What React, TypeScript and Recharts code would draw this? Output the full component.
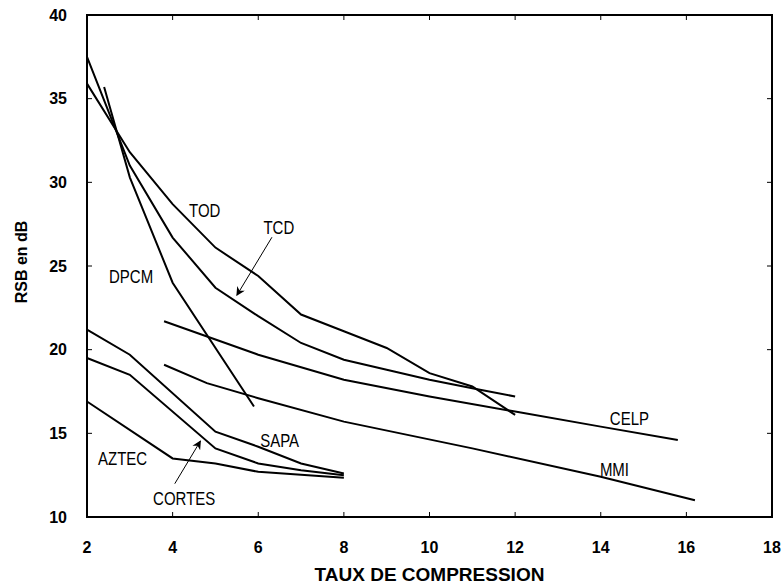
import React from "react";
import { LineChart, Line, XAxis, YAxis, ReferenceArea, ReferenceDot, Label } from "recharts";

// taux de compression (x) / RSB en dB (y) for each coder
const todX = [2, 3, 4, 5, 6, 7, 8, 9, 10, 11, 12];
const todY = [35.9, 31.8, 28.7, 26.1, 24.4, 22.1, 21.1, 20.1, 18.6, 17.8, 16.1];

const tcdX = [2, 3, 4, 5, 6, 7, 8, 9, 10, 11, 12];
const tcdY = [37.5, 31.0, 26.7, 23.7, 22.0, 20.4, 19.4, 18.8, 18.2, 17.7, 17.2];

const dpcmX = [2.4, 3, 4, 5.9];
const dpcmY = [35.7, 30.3, 24.0, 16.6];

const celpX = [3.8, 6, 8, 10, 12, 14, 15.8];
const celpY = [21.7, 19.7, 18.2, 17.2, 16.3, 15.4, 14.6];

const mmiX = [3.8, 4.8, 6, 8, 11, 14, 16.2];
const mmiY = [19.1, 18.0, 17.1, 15.7, 14.1, 12.4, 11.0];

const sapaX = [2, 3, 5, 6, 7, 8];
const sapaY = [21.2, 19.7, 15.1, 14.2, 13.2, 12.6];

const cortesX = [2, 3, 5, 6, 7, 8];
const cortesY = [19.5, 18.5, 14.1, 13.2, 12.8, 12.5];

const aztecX = [2, 4, 5, 6, 8];
const aztecY = [16.9, 13.5, 13.2, 12.7, 12.35];

// annotation arrows (tail -> head)
const tcdArrowX = [6.32, 5.5];
const tcdArrowY = [26.72, 23.25];
const cortesArrowX = [4.05, 4.65];
const cortesArrowY = [11.99, 14.54];

const xTicks = [2, 4, 6, 8, 10, 12, 14, 16, 18];
const yTicks = [10, 15, 20, 25, 30, 35, 40];

const labels = [
  { name: "TOD", x: 4.75, y: 28.3 },
  { name: "TCD", x: 6.48, y: 27.3 },
  { name: "DPCM", x: 3.03, y: 24.35 },
  { name: "CELP", x: 14.67, y: 15.88 },
  { name: "MMI", x: 14.32, y: 12.85 },
  { name: "SAPA", x: 6.5, y: 14.58 },
  { name: "AZTEC", x: 2.83, y: 13.49 },
  { name: "CORTES", x: 4.27, y: 11.09 },
];

const toPoints = (xs: number[], ys: number[]) => xs.map((x, i) => ({ x, y: ys[i] }));

const series = [
  toPoints(todX, todY),
  toPoints(tcdX, tcdY),
  toPoints(dpcmX, dpcmY),
  toPoints(celpX, celpY),
  toPoints(mmiX, mmiY),
  toPoints(sapaX, sapaY),
  toPoints(cortesX, cortesY),
  toPoints(aztecX, aztecY),
];

const arrows = [toPoints(tcdArrowX, tcdArrowY), toPoints(cortesArrowX, cortesArrowY)];

const W = 782;
const H = 584;
const TOP = 15;
const LEFT = 87;
const RIGHT = 772;
const BOTTOM = 517;
const FONT = "'Liberation Sans', Arial, sans-serif";

const XTick = (props: any) => {
  const { x, payload } = props;
  return (
    <g>
      <line x1={x} x2={x} y1={BOTTOM} y2={BOTTOM - 5} stroke="#000" strokeWidth={1} />
      <line x1={x} x2={x} y1={TOP} y2={TOP + 5} stroke="#000" strokeWidth={1} />
      <text x={x} y={BOTTOM + 30} dy="0.35em" textAnchor="middle" fontSize={16} fontWeight="bold" fontFamily={FONT} fill="#000">
        {payload.value}
      </text>
    </g>
  );
};

const YTick = (props: any) => {
  const { y, payload } = props;
  return (
    <g>
      <line x1={LEFT} x2={LEFT + 5} y1={y} y2={y} stroke="#000" strokeWidth={1} />
      <line x1={RIGHT} x2={RIGHT - 5} y1={y} y2={y} stroke="#000" strokeWidth={1} />
      <text x={LEFT - 20} y={y} dy="0.35em" textAnchor="end" fontSize={16} fontWeight="bold" fontFamily={FONT} fill="#000">
        {payload.value}
      </text>
    </g>
  );
};

// plot labels are slightly stretched vertically in the original
const PlotLabel = (props: any) => {
  const { viewBox, value } = props;
  const cx = viewBox.x + viewBox.width / 2;
  const cy = viewBox.y + viewBox.height / 2;
  return (
    <g transform={`translate(${cx} ${cy}) scale(1 1.18)`}>
      <text x={0} y={0} dy="0.35em" textAnchor="middle" fontSize={15} fontFamily={FONT} fill="#000">
        {value}
      </text>
    </g>
  );
};

export default function App() {
  return (
    <div style={{ position: "absolute", left: 0, top: 0, width: W, height: H, background: "#fff" }}>
      <LineChart width={W} height={H} margin={{ top: TOP, right: W - RIGHT, left: 0, bottom: 0 }}>
        <defs>
          <marker id="arrowHead" viewBox="0 0 10 10" refX="9" refY="5" markerWidth="9" markerHeight="9" orient="auto" markerUnits="userSpaceOnUse">
            <path d="M0,0 L10,5 L0,10 L3,5 z" fill="#000" />
          </marker>
        </defs>
        <XAxis
          type="number"
          dataKey="x"
          domain={[2, 18]}
          ticks={xTicks}
          height={H - BOTTOM}
          axisLine={false}
          tickLine={false}
          tickSize={0}
          tickMargin={0}
          tick={<XTick />}
          interval={0}
        >
          <Label
            content={() => (
              <text x={(LEFT + RIGHT) / 2} y={574} dy="0.35em" textAnchor="middle" fontSize={19} fontWeight="bold" fontFamily={FONT} fill="#000">
                TAUX DE COMPRESSION
              </text>
            )}
          />
        </XAxis>
        <YAxis
          type="number"
          dataKey="y"
          domain={[10, 40]}
          ticks={yTicks}
          width={LEFT}
          axisLine={false}
          tickLine={false}
          tickSize={0}
          tickMargin={0}
          tick={<YTick />}
          interval={0}
        >
          <Label
            content={() => (
              <text x={21} y={262} dy="0.35em" textAnchor="middle" fontSize={16} fontWeight="bold" fontFamily={FONT} fill="#000" transform="rotate(-90 21 262)">
                RSB en dB
              </text>
            )}
          />
        </YAxis>
        <ReferenceArea x1={2} x2={18} y1={10} y2={40} fill="none" stroke="#000" strokeWidth={2} />
        {series.map((d, i) => (
          <Line
            key={i}
            data={d}
            dataKey="y"
            type="linear"
            stroke="#000"
            strokeWidth={2}
            dot={false}
            activeDot={false}
            isAnimationActive={false}
          />
        ))}
        {arrows.map((d, i) => (
          <Line
            key={"a" + i}
            data={d}
            dataKey="y"
            type="linear"
            stroke="#000"
            strokeWidth={1}
            dot={false}
            activeDot={false}
            markerEnd="url(#arrowHead)"
            isAnimationActive={false}
          />
        ))}
        {labels.map((l) => (
          <ReferenceDot
            key={l.name}
            x={l.x}
            y={l.y}
            r={0}
            fill="none"
            stroke="none"
            label={<PlotLabel value={l.name} />}
          />
        ))}
      </LineChart>
    </div>
  );
}
